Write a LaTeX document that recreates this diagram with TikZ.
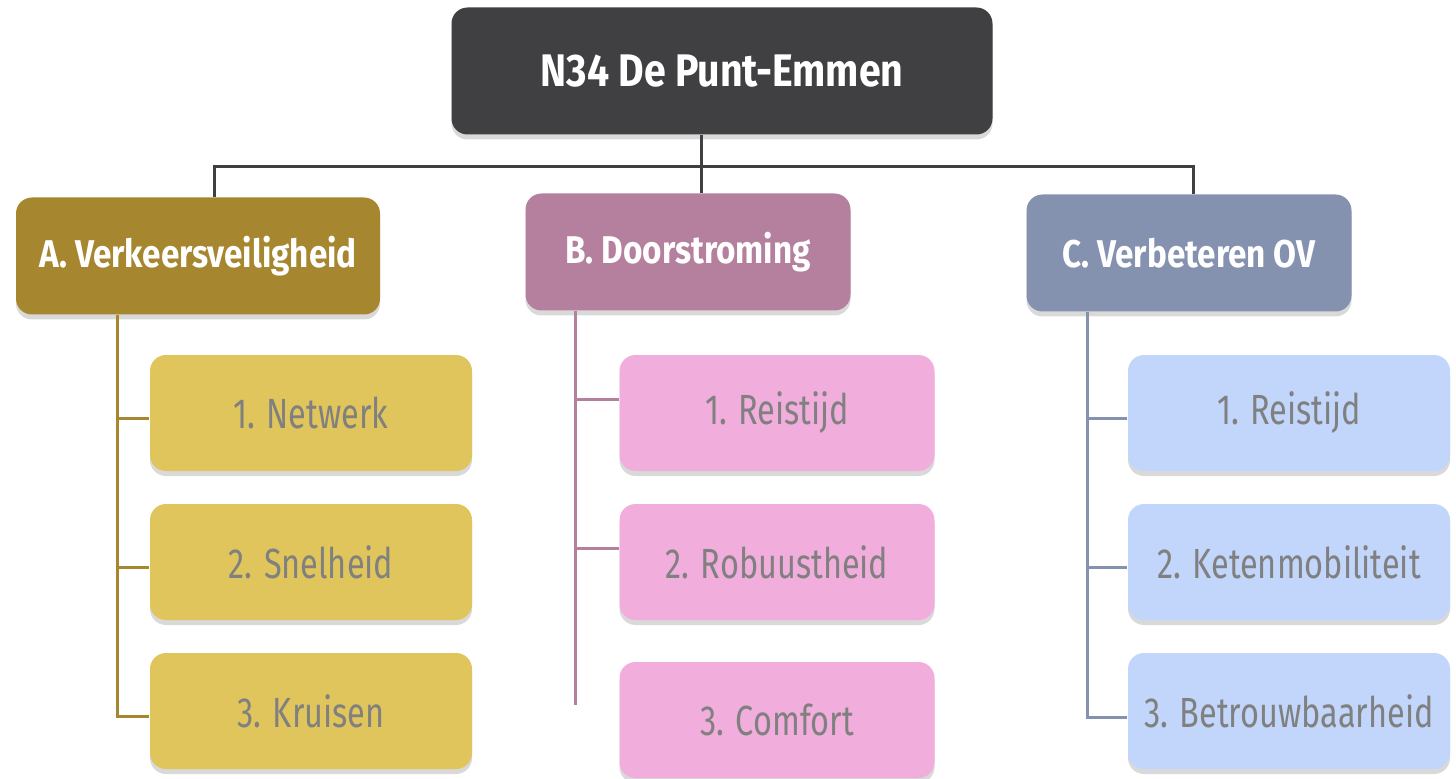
\documentclass[tikz,border=0pt]{standalone}
\usepackage{fontspec}
\setmainfont{Fira Sans}[FakeStretch=0.86]
\newfontfamily\itemfont{Fira Sans}[FakeStretch=0.77]
\usetikzlibrary{shadows,positioning}
\definecolor{rootgray}{HTML}{404042}
\definecolor{veilig}{HTML}{A6862F}
\definecolor{veiligL}{HTML}{DFC55B}
\definecolor{door}{HTML}{B4809E}
\definecolor{doorL}{HTML}{F1AEDC}
\definecolor{ov}{HTML}{8592AF}
\definecolor{ovL}{HTML}{C2D5FA}
\definecolor{itemtext}{HTML}{808080}
\tikzset{box/.style={rounded corners=1.6mm, inner sep=0pt,
    drop shadow={shadow xshift=0pt, shadow yshift=-0.5mm, opacity=0.3}}}
\tikzset{head/.style={box, text=white, minimum height=11.7mm,
    font=\bfseries\fontsize{11}{13}\selectfont}}
\tikzset{item/.style={box, text=itemtext, minimum height=11.6mm,
    font=\itemfont\fontsize{12}{14}\selectfont}}
\tikzset{link/.style={line width=0.3mm}}

\begin{document}
\begin{tikzpicture}[x=0.1mm, y=-0.1mm]
    \useasboundingbox (0,0) rectangle (1456,779);

    % top and the three themes
    \node[head, fill=rootgray, minimum width=54.1mm, minimum height=12.7mm,
      font=\bfseries\fontsize{13}{15}\selectfont] (root) at (722,71) {N34 De Punt-Emmen};
    \node[head, fill=veilig, minimum width=36.4mm] (A) at (198,256) {A. Verkeersveiligheid};
    \node[head, fill=door, minimum width=32.5mm] (B) at (688,252) {B. Doorstroming};
    \node[head, fill=ov, minimum width=32.5mm] (C) at (1189,253) {C. Verbeteren OV};

    \coordinate (jA) at (214,167);
    \coordinate (jB) at (701,167);
    \coordinate (jC) at (1193,167);
    \draw[link, rootgray] (root.south -| jB) -- (jB);
    \draw[link, rootgray] (A.north -| jA) -- (jA) -- (jC) -- (C.north -| jC);
    \draw[link, rootgray] (jB) -- (B.north -| jB);

    % sub goals
    \foreach \n/\y/\t in {1/413/1. Netwerk, 2/562/2. Snelheid, 3/711/3. Kruisen}
    \node[item, fill=veiligL, minimum width=32.2mm] (a\n) at (311,\y) {\t};
    \foreach \n/\y/\t in {1/413/1. Reistijd, 2/562/2. Robuustheid, 3/720/3. Comfort}
    \node[item, fill=doorL, minimum width=31.5mm] (b\n) at (777,\y) {\t};
    \foreach \n/\y/\t in {1/413/1. Reistijd, 2/562/2. Ketenmobiliteit, 3/711/3. Betrouwbaarheid}
    \node[item, fill=ovL, minimum width=32.2mm] (c\n) at (1289,\y) {\t};

    \coordinate (sA) at (117,0);
    \coordinate (sB) at (575,705);
    \coordinate (sC) at (1087,0);

    \draw[link, veilig] (A.south -| sA) -- ([yshift=-0.5mm]a3.west -| sA) -- ([yshift=-0.5mm]a3.west);
    \foreach \n in {1,2}
    \draw[link, veilig] ([yshift=-0.5mm]a\n.west -| sA) -- ([yshift=-0.5mm]a\n.west);

    \draw[link, door] (B.south -| sB) -- (sB);
    \foreach \n in {1,2}
    \draw[link, door] ([yshift=1.4mm]b\n.west -| sB) -- ([yshift=1.4mm]b\n.west);

    \draw[link, ov] (C.south -| sC) -- ([yshift=-0.6mm]c3.west -| sC) -- ([yshift=-0.6mm]c3.west);
    \foreach \n in {1,2}
    \draw[link, ov] ([yshift=-0.5mm]c\n.west -| sC) -- ([yshift=-0.5mm]c\n.west);
\end{tikzpicture}
\end{document}
